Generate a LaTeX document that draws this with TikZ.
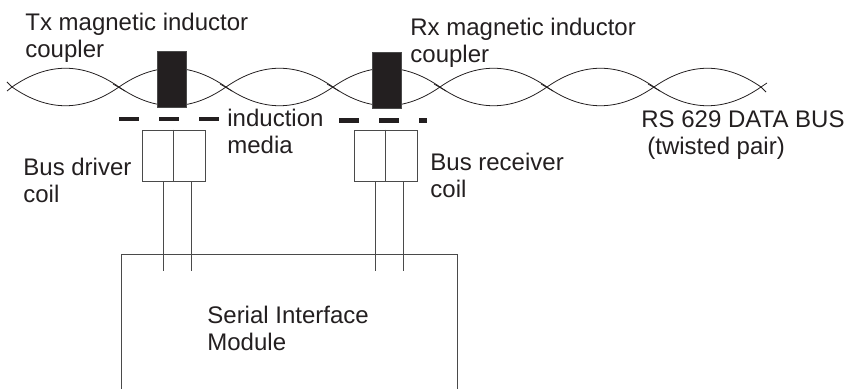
\documentclass[tikz,border=0pt]{standalone}
\usepackage{fontspec}
\setmainfont{Liberation Sans}
\definecolor{inkblack}{HTML}{231F20}
\definecolor{wiregray}{HTML}{4A4A4A}

\begin{document}
\begin{tikzpicture}[
  x=0.5pt, y=-0.5pt,
  wire/.style={draw=inkblack, line width=0.4pt},
  core/.style={draw=wiregray, fill=inkblack, line width=0.4pt, minimum width=14.5pt, minimum height=28pt, inner sep=0pt},
  coil/.style={draw=wiregray, line width=0.45pt, minimum width=31.5pt, minimum height=25.5pt, inner sep=0pt},
  lead/.style={draw=wiregray, line width=0.5pt},
  media/.style={draw=inkblack, line width=2.2pt, dash pattern=on 10pt off 10pt},
  lbl/.style={font=\fontsize{12}{13.5}\selectfont, text=inkblack, align=left, anchor=north west, inner sep=0pt},
]
\useasboundingbox (0,0) rectangle (844,389);

% === Twisted pair ===
\foreach \i in {0,...,6} {
  \pgfmathsetmacro{\xa}{12+107*\i}
  \pgfmathsetmacro{\xb}{\xa+107}
  \draw[wire] (\xa,87) .. controls (\xa+36,62) and (\xb-36,62) .. (\xb,87);
  \draw[wire] (\xa,87) .. controls (\xa+36,112) and (\xb-36,112) .. (\xb,87);
}
\draw[wire] (7,91) -- (12,87) -- (7,82);
\draw[wire] (767,83) -- (761,87) -- (766,92);
% overlaps where the strands meet
\foreach \x in {119,226,333,440,547,654}
  \draw[wire] (\x-6,84) -- (\x+6,91);

% === Couplers ===
\node[core] (txcore) at (172,79) {};
\node[core] (rxcore) at (386.5,80) {};

% === Induction media ===
\draw[media] (119,119) -- (219,119);
\draw[media] (339,120.5) -- (427,120.5);

% === Coils ===
\node[coil] (txcoil) at (173.5,155.5) {};
\node[coil] (rxcoil) at (385.5,155.5) {};
\draw[lead] (txcoil.north) -- (txcoil.south);
\draw[lead] (rxcoil.north) -- (rxcoil.south);

% === Module, open at the bottom ===
\coordinate (modleft) at (121.5,389);
\coordinate (modright) at (457.5,389);
\draw[lead] (modleft) |- (457.5,254.5) -- (modright);

% === Leads ===
\coordinate (txleada) at (163,271);
\coordinate (txleadb) at (191,271);
\coordinate (rxleada) at (375,271);
\coordinate (rxleadb) at (403,271);
\draw[lead] (txcoil.south -| txleada) -- (txleada);
\draw[lead] (txcoil.south -| txleadb) -- (txleadb);
\draw[lead] (rxcoil.south -| rxleada) -- (rxleada);
\draw[lead] (rxcoil.south -| rxleadb) -- (rxleadb);

% === Labels ===
\node[lbl] (txlabel) at (25,13) {Tx magnetic inductor\\coupler};
\node[lbl] (rxlabel) at (410,18) {Rx magnetic inductor\\coupler};
\node[lbl] (medialabel) at (227,109) {induction\\media};
\node[lbl] (driverlabel) at (23,158) {Bus driver\\coil};
\node[lbl] (receiverlabel) at (430,153) {Bus receiver\\coil};
\node[lbl] (buslabel) at (641,110) {RS 629 DATA BUS\\\hspace*{3pt}(twisted pair)};
\node[lbl] (modlabel) at (207,306) {Serial Interface\\Module};

\end{tikzpicture}
\end{document}
